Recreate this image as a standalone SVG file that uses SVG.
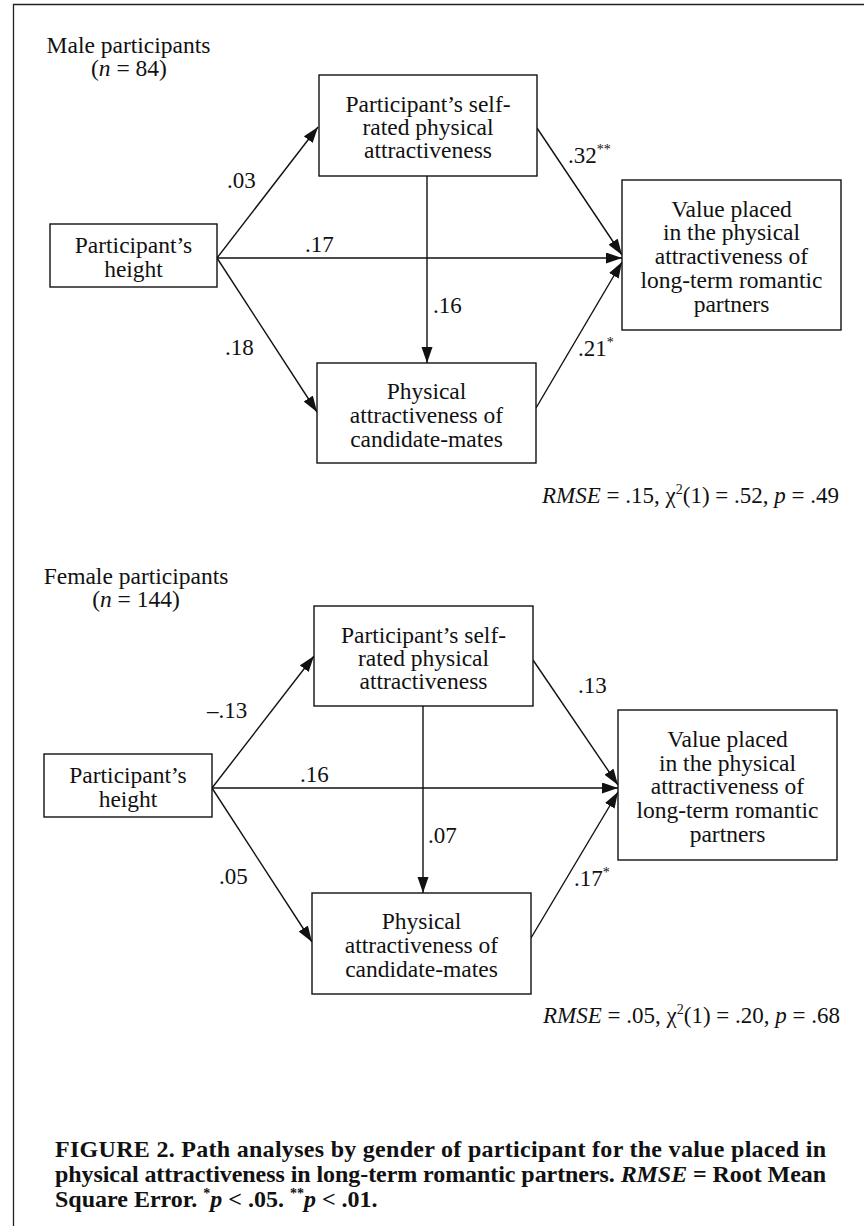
<svg xmlns="http://www.w3.org/2000/svg" width="864" height="1226" viewBox="0 0 864 1226">
<style>
text{font-family:"Liberation Serif","Times New Roman",serif;fill:#111;}
.t{font-size:23.5px;text-anchor:middle;}
.lab{font-size:23px;}
.sup{font-size:14px;}
.stat{font-size:23px;text-anchor:end;}
.cap{font-size:24px;font-weight:bold;}
.box{fill:#fff;stroke:#111;stroke-width:1.4;}
.edge{stroke:#111;stroke-width:1.4;fill:none;marker-end:url(#ah);}
.frame{stroke:#222;stroke-width:1.3;fill:none;}
</style>
<defs>
<marker id="ah" markerUnits="userSpaceOnUse" markerWidth="17" markerHeight="12" refX="16" refY="5.5" orient="auto">
<path d="M0,0 L16,5.5 L0,11 z" fill="#111"/>
</marker>
</defs>
<rect width="864" height="1226" fill="#fff"/>
<path class="frame" d="M13.5,1226 V4.5 H864"/>

<g id="male-title">
<text class="t" x="128.5" y="53">Male participants</text>
<text class="t" x="129" y="76">(<tspan font-style="italic">n</tspan> = 84)</text>
</g>

<g id="connectors-male">
<line class="edge" x1="217" y1="258" x2="318" y2="127"/>
<line class="edge" x1="217" y1="258" x2="622" y2="258"/>
<line class="edge" x1="217" y1="258" x2="317" y2="412"/>
<line class="edge" x1="427" y1="176" x2="427" y2="363"/>
<line class="edge" x1="537" y1="128" x2="622" y2="255"/>
<line class="edge" x1="536" y1="408" x2="622" y2="262"/>
</g>

<g id="m-height">
<rect class="box" x="50" y="224" width="167" height="63"/>
<text class="t" x="133.5" y="253">Participant’s</text>
<text class="t" x="133.5" y="277">height</text>
</g>
<g id="m-self">
<rect class="box" x="319" y="75" width="218" height="101"/>
<text class="t" x="428" y="112">Participant’s self-</text>
<text class="t" x="428" y="135">rated physical</text>
<text class="t" x="428" y="158">attractiveness</text>
</g>
<g id="m-cand">
<rect class="box" x="317" y="363" width="219" height="100"/>
<text class="t" x="426.5" y="399">Physical</text>
<text class="t" x="426.5" y="423">attractiveness of</text>
<text class="t" x="426.5" y="447">candidate-mates</text>
</g>
<g id="m-value">
<rect class="box" x="622" y="180" width="219" height="150"/>
<text class="t" x="731.5" y="217">Value placed</text>
<text class="t" x="731.5" y="240">in the physical</text>
<text class="t" x="731.5" y="264">attractiveness of</text>
<text class="t" x="731.5" y="288">long-term romantic</text>
<text class="t" x="731.5" y="312">partners</text>
</g>

<g id="labels-male">
<text class="lab" x="227" y="188">.03</text>
<text class="lab" x="305" y="252">.17</text>
<text class="lab" x="225" y="355">.18</text>
<text class="lab" x="433" y="313">.16</text>
<text class="lab" x="568" y="163">.32<tspan class="sup" dy="-9">**</tspan></text>
<text class="lab" x="578" y="356">.21<tspan class="sup" dy="-9">*</tspan></text>
<text class="stat" x="839" y="503"><tspan font-style="italic">RMSE</tspan> = .15, χ<tspan class="sup" dy="-9">2</tspan><tspan dy="9">(1) = .52, </tspan><tspan font-style="italic">p</tspan> = .49</text>
</g>

<g id="female-title">
<text class="t" x="136" y="584">Female participants</text>
<text class="t" x="136" y="607">(<tspan font-style="italic">n</tspan> = 144)</text>
</g>

<g id="connectors-female">
<line class="edge" x1="212" y1="788" x2="314" y2="656"/>
<line class="edge" x1="212" y1="788" x2="618" y2="788"/>
<line class="edge" x1="212" y1="788" x2="312" y2="942"/>
<line class="edge" x1="423" y1="706" x2="423" y2="893"/>
<line class="edge" x1="533" y1="660" x2="618" y2="785"/>
<line class="edge" x1="531" y1="938" x2="618" y2="792"/>
</g>

<g id="f-height">
<rect class="box" x="44" y="754" width="168" height="63"/>
<text class="t" x="128" y="783">Participant’s</text>
<text class="t" x="128" y="807">height</text>
</g>
<g id="f-self">
<rect class="box" x="314" y="606" width="219" height="100"/>
<text class="t" x="423.5" y="643">Participant’s self-</text>
<text class="t" x="423.5" y="666">rated physical</text>
<text class="t" x="423.5" y="689">attractiveness</text>
</g>
<g id="f-cand">
<rect class="box" x="312" y="893" width="219" height="101"/>
<text class="t" x="421.5" y="929">Physical</text>
<text class="t" x="421.5" y="953">attractiveness of</text>
<text class="t" x="421.5" y="977">candidate-mates</text>
</g>
<g id="f-value">
<rect class="box" x="618" y="710" width="219" height="150"/>
<text class="t" x="727.5" y="747">Value placed</text>
<text class="t" x="727.5" y="771">in the physical</text>
<text class="t" x="727.5" y="794">attractiveness of</text>
<text class="t" x="727.5" y="818">long-term romantic</text>
<text class="t" x="727.5" y="842">partners</text>
</g>

<g id="labels-female">
<text class="lab" x="207" y="718">–.13</text>
<text class="lab" x="300" y="782">.16</text>
<text class="lab" x="219" y="884">.05</text>
<text class="lab" x="428" y="843">.07</text>
<text class="lab" x="578" y="693">.13</text>
<text class="lab" x="574" y="886">.17<tspan class="sup" dy="-9">*</tspan></text>
<text class="stat" x="840" y="1023"><tspan font-style="italic">RMSE</tspan> = .05, χ<tspan class="sup" dy="-9">2</tspan><tspan dy="9">(1) = .20, </tspan><tspan font-style="italic">p</tspan> = .68</text>
</g>

<g id="caption">
<text class="cap" x="55" y="1157" textLength="771" lengthAdjust="spacing">FIGURE 2. Path analyses by gender of participant for the value placed in</text>
<text class="cap" x="55" y="1182" textLength="771" lengthAdjust="spacing">physical attractiveness in long-term romantic partners. <tspan font-style="italic">RMSE</tspan> = Root Mean</text>
<text class="cap" x="55" y="1207">Square Error. <tspan class="sup" dy="-9">*</tspan><tspan dy="9" font-style="italic">p</tspan> &lt; .05. <tspan class="sup" dy="-9">**</tspan><tspan dy="9" font-style="italic">p</tspan> &lt; .01.</text>
</g>
</svg>
